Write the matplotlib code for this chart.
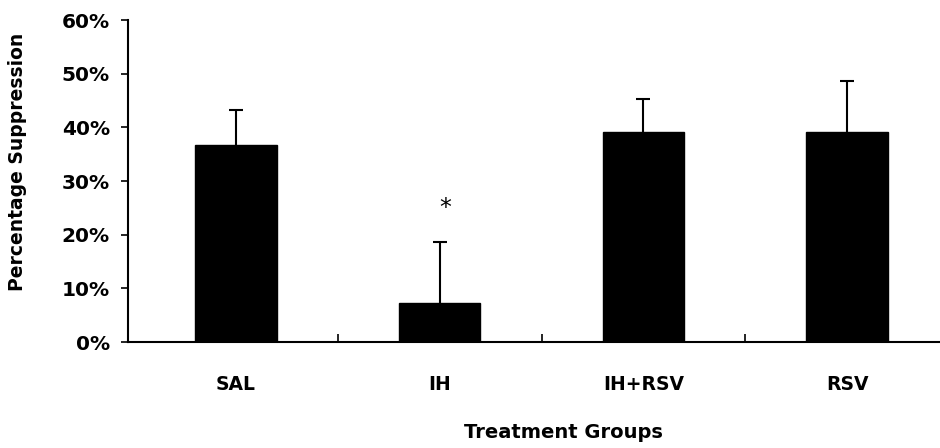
import numpy as np
import matplotlib
matplotlib.use("Agg")
import matplotlib.pyplot as plt
from matplotlib.ticker import FuncFormatter

# Suppression (%) per treatment group, mean and upper error
groups = ["SAL", "IH", "IH+RSV", "RSV"]
means = [36.7, 7.3, 39.1, 39.1]
errors = [6.5, 11.4, 6.1, 9.6]
star_group = "IH"

plt.rcParams["font.family"] = "DejaVu Sans"

fig = plt.figure(figsize=(9.4, 4.48), dpi=100)
ax = fig.add_axes([128 / 940, 1 - 342 / 448, 821 / 940, 322 / 448])

x = np.arange(len(groups))
ax.bar(x, means, width=0.4, color="black", edgecolor="black", zorder=2)
eb = ax.errorbar(x, means, yerr=[np.zeros(len(errors)), errors], fmt="none",
                 ecolor="black", elinewidth=1.5, capsize=5, capthick=1.5,
                 zorder=3)
# only the upper cap is wanted
eb[1][0].set_visible(False)

i = groups.index(star_group)
ax.text(x[i] + 0.025, means[i] + errors[i] + 6.3, "*", ha="center", va="center",
        fontsize=17, color="black")

ax.set_xlim(-0.53, 3.5)
ax.set_ylim(0, 60)
ax.set_yticks(np.arange(0, 61, 10))
ax.yaxis.set_major_formatter(FuncFormatter(lambda v, p: f"{v:.0f}%"))
ax.set_xticks(x)
ax.set_xticklabels(groups)
ax.set_xticks(x[:-1] + 0.5, minor=True)

ax.tick_params(axis="y", direction="out", length=5, width=1.2, pad=8,
               labelsize=14.5)
ax.tick_params(axis="x", which="major", length=0, pad=24, labelsize=13.5)
ax.tick_params(axis="x", which="minor", direction="in", length=6, width=1.2)
for lab in ax.get_xticklabels() + ax.get_yticklabels():
    lab.set_fontweight("bold")

for s in ["top", "right"]:
    ax.spines[s].set_visible(False)
for s in ["left", "bottom"]:
    ax.spines[s].set_linewidth(1.5)

fig.text(563 / 940, 1 - 432 / 448, "Treatment Groups", ha="center",
         va="center", fontsize=14, fontweight="bold")
fig.text(18 / 940, 1 - 162 / 448, "Percentage Suppression", ha="center",
         va="center", rotation=90, fontsize=13.5, fontweight="bold")

fig.savefig("out.png", dpi=100, facecolor="white")
